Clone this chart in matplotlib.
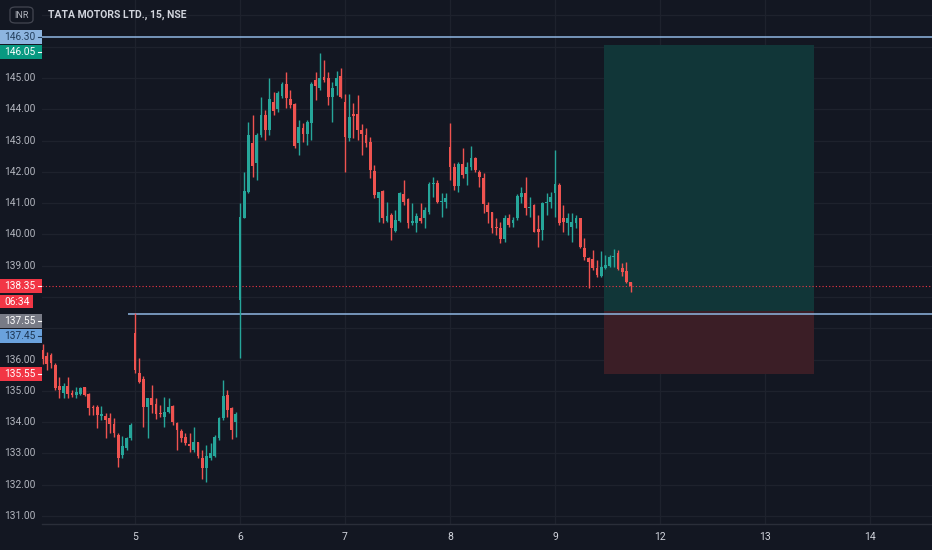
import matplotlib
matplotlib.use("Agg")
import matplotlib.pyplot as plt
from matplotlib.patches import Rectangle, FancyBboxPatch
from matplotlib.lines import Line2D
import numpy as np

# ---------------- data ----------------
title = "TATA MOTORS LTD., 15, NSE"
currency = "INR"
bars_per_session = 25
first_bar = 3          # first visible bar inside first session (day 4)

# day 4 (22 bars), day 5, 6, 7, 8 (25 bars each), day 9 (19 bars)
open_ = [136.30,136.11,136.15,135.83,135.15,134.94,135.15,134.92,134.86,134.90,135.11,134.90,134.49,134.49,134.20,134.20,134.14,133.94,133.59,132.95,133.16,133.48,
         136.84,135.56,135.37,134.47,134.76,134.58,134.30,134.17,134.33,134.51,133.98,133.73,133.54,133.30,133.11,133.38,132.84,132.52,132.84,132.92,133.48,134.12,134.87,134.44,134.01,
         137.90,140.52,141.37,142.91,142.27,143.18,143.82,143.34,144.24,144.01,144.44,144.80,144.33,144.16,142.91,143.41,143.20,143.55,144.93,144.69,145.04,145.01,144.40,144.76,145.06,
         144.23,143.09,143.84,143.84,143.34,143.18,142.97,142.03,141.15,141.39,140.43,140.62,140.11,140.43,141.28,141.13,140.36,140.36,140.54,140.54,140.71,141.60,141.66,141.03,141.03,
         142.81,142.17,141.56,142.24,141.92,142.14,142.45,141.98,141.82,140.94,140.73,140.25,140.22,139.86,140.54,140.36,140.52,141.21,141.32,140.84,140.94,140.17,140.14,140.99,141.03,
         141.31,141.58,140.54,140.36,140.25,140.36,140.52,139.58,139.26,139.22,138.92,138.68,138.92,139.00,139.29,139.40,138.92,138.83,138.47]
high = [136.50,136.25,136.20,135.88,135.45,135.24,135.43,135.03,135.13,135.13,135.13,134.92,134.55,134.55,134.52,134.28,134.28,134.12,133.64,133.56,133.54,133.96,
        137.48,136.04,135.47,134.78,135.19,134.76,134.55,134.81,134.76,134.55,134.01,133.77,133.64,133.64,133.85,133.38,133.11,133.27,133.32,133.59,134.17,135.35,135.03,134.49,134.33,
        140.99,142.01,143.60,143.82,143.23,144.40,143.98,144.99,144.56,144.59,144.88,145.20,144.62,144.19,143.66,143.55,143.66,144.88,145.20,145.79,145.58,145.20,144.88,145.22,145.31,
        144.50,144.50,144.19,144.46,143.52,143.39,143.12,142.22,141.35,141.42,141.05,140.67,140.78,141.37,141.74,141.15,141.00,140.68,141.00,140.89,141.69,141.85,141.74,141.31,141.31,
        143.55,142.27,142.33,142.75,142.33,142.84,142.49,142.06,141.95,141.05,140.73,140.52,140.41,140.62,140.64,140.57,141.28,141.53,141.85,141.21,140.96,140.62,141.03,141.31,141.37,
        142.70,141.63,140.94,140.68,140.68,140.62,140.54,139.88,139.29,139.50,139.18,139.47,139.34,139.34,139.53,139.50,139.08,139.13,138.47]
low = [135.86,135.67,135.72,135.03,134.76,134.76,134.76,134.81,134.76,134.87,134.83,134.23,134.23,133.83,134.07,133.51,133.64,133.54,132.56,132.84,133.11,133.43,
       135.56,135.24,133.85,133.51,134.28,134.09,134.17,133.85,134.28,133.91,133.11,133.38,133.27,133.06,133.06,132.84,132.20,132.10,132.79,132.90,133.43,134.07,134.17,133.45,133.54,
       136.05,140.52,141.31,141.85,141.74,143.13,143.02,143.18,143.82,143.92,144.35,144.05,144.03,142.75,142.54,142.97,142.86,143.02,144.30,144.62,144.88,144.14,143.60,144.46,144.35,
       142.00,143.00,143.07,143.02,142.54,142.81,141.79,141.16,140.41,140.36,140.41,139.82,140.09,140.41,140.94,140.20,140.30,140.09,140.36,140.22,140.64,141.21,141.00,140.57,140.84,
       141.74,141.42,141.37,141.79,141.58,142.06,142.01,141.53,140.68,140.36,140.04,139.98,139.72,139.77,140.25,140.25,140.46,140.99,140.62,140.57,140.07,139.61,139.82,140.62,140.84,
       140.57,140.30,140.09,139.98,139.77,140.20,139.56,139.18,138.30,138.86,138.65,138.65,138.90,138.97,138.97,138.86,138.68,138.44,138.17]
close = [136.01,135.86,135.88,135.08,135.03,135.15,134.90,134.86,134.96,135.08,134.87,134.44,134.44,134.23,134.26,134.07,133.94,133.64,132.84,133.24,133.48,133.91,
         135.67,135.29,134.47,134.76,134.55,134.26,134.26,134.33,134.47,134.01,133.75,133.48,133.34,133.24,133.38,132.92,132.52,132.92,133.00,133.54,134.12,134.83,134.39,133.75,134.26,
         140.57,141.39,143.18,142.20,143.18,143.82,143.34,144.33,143.95,144.53,144.80,144.37,144.14,142.84,143.44,143.20,143.58,144.80,144.76,145.01,144.95,144.40,144.67,145.01,144.40,
         143.10,143.76,143.80,143.34,143.20,142.91,142.06,141.26,141.35,140.52,140.60,140.22,140.46,141.32,141.03,140.36,140.43,140.60,140.43,140.78,141.60,141.66,141.05,141.07,141.17,
         142.17,141.56,142.24,141.90,142.17,142.45,142.06,141.85,140.96,140.73,140.22,140.20,139.86,140.54,140.30,140.46,141.24,141.32,140.86,140.89,140.09,140.09,140.99,141.03,141.21,
         141.60,140.36,140.39,140.52,140.39,140.54,139.61,139.29,139.11,138.92,138.70,138.97,139.03,139.29,139.32,138.90,138.81,138.47,138.35]

day_labels = ["5", "6", "7", "8", "9", "12", "13", "14"]
price_ticks = list(range(131, 148))

hline_top = 146.30
hline_ray = 137.45
ray_start_bar = 23.3
entry_price, target_price, stop_price = 137.55, 146.05, 135.55
position_start_bar, position_bars = 136.6, 50
last_price = 138.35
countdown = "06:34"

# ---------------- style ----------------
W, H = 932, 550
BG = "#131722"
UP = "#26a69a"
DOWN = "#ef5350"
GRID = "#1e222d"
AXTXT = "#b2b5be"
plt.rcParams['font.family'] = ['Roboto', 'DejaVu Sans']

fig = plt.figure(figsize=(W / 100, H / 100), dpi=100, facecolor=BG)
plot_left, plot_bottom = 42, 26
ax = fig.add_axes([plot_left / W, plot_bottom / H, (W - plot_left) / W, (H - plot_bottom) / H])
ax.set_facecolor(BG)

px_per_bar = 4.2
x0_bar = (plot_left - 30) / px_per_bar
x1_bar = (W - 30) / px_per_bar
ax.set_xlim(x0_bar, x1_bar)
px_per_unit = 31.29
ax.set_ylim(145 - (H - plot_bottom - 78) / px_per_unit, 145 + 78 / px_per_unit)

o = np.array(open_); h = np.array(high); l = np.array(low); c = np.array(close)
g = first_bar + np.arange(len(o))
cols = np.where(c >= o, UP, DOWN)

# grid
ax.set_yticks(price_ticks)
day_pos = [bars_per_session * (i + 1) for i in range(len(day_labels))]
ax.set_xticks(day_pos)
ax.grid(True, color=GRID, lw=0.9, zorder=0)
ax.set_axisbelow(True)
ax.tick_params(length=0, labelleft=False, labelbottom=False)
for s in ["top", "left", "right"]:
    ax.spines[s].set_visible(False)
ax.spines["bottom"].set_color("#2a2e39")
ax.spines["bottom"].set_linewidth(1)

# position tool boxes
ax.add_patch(Rectangle((position_start_bar, entry_price), position_bars, target_price - entry_price,
                       facecolor="#113638", edgecolor="none", zorder=1))
ax.add_patch(Rectangle((position_start_bar, stop_price), position_bars, entry_price - stop_price,
                       facecolor="#3b1e26", edgecolor="none", zorder=1))

# horizontal lines
ax.axhline(hline_top, color="#8fb7e3", lw=1.1, zorder=2)
ax.hlines(hline_ray, ray_start_bar, x1_bar, color="#8fb7e3", lw=1.1, zorder=2)
ax.axhline(last_price, color="#f23645", lw=0.8, ls=(0, (1, 2)), zorder=2)

# candles
ax.vlines(g, l, h, colors=cols, lw=1.0, zorder=3)
body_h = np.maximum(np.abs(c - o), 0.03)
ax.bar(g, body_h, bottom=np.minimum(o, c), width=0.7, color=cols, edgecolor="none", zorder=4)

# ---------------- axis texts ----------------
def ydisp(price):
    return ax.transData.transform((0, price))[1]

def xdisp(bar):
    return ax.transData.transform((bar, 0))[0]

for lab, pos in zip(day_labels, day_pos):
    fig.text(xdisp(pos) / W, 13 / H, lab, ha="center", va="center", color="#d1d4dc", fontsize=7.5)

# price labels with stacking (display px, y up)
BOX_H, GAP = 14, 1
labels = [
    (hline_top, f"{hline_top:.2f}", "#8db5e0", "#24405e", None),
    (target_price, f"{target_price:.2f}", "#089981", "white", None),
    (last_price, f"{last_price:.2f}", "#f23645", "white", countdown),
    (entry_price, f"{entry_price:.2f}", "#787b86", "white", None),
    (hline_ray, f"{hline_ray:.2f}", "#6aa2dd", "#1d3654", None),
    (stop_price, f"{stop_price:.2f}", "#f23645", "white", None),
]
occupied = [(H - 24, H - 6)]   # currency badge
prev_bottom = None
for price, txt, bg, fg, extra in labels:
    top = ydisp(price) + BOX_H / 2
    if prev_bottom is not None and top > prev_bottom - GAP:
        top = prev_bottom - GAP
    fig.add_artist(Rectangle((0, (top - BOX_H) / H), 42 / W, BOX_H / H, transform=fig.transFigure,
                             facecolor=bg, edgecolor="none", zorder=5))
    fig.text(20 / W, (top - BOX_H / 2) / H, txt, ha="center", va="center", color=fg, fontsize=7.3, zorder=6)
    fig.add_artist(Line2D([37.5 / W, 40.5 / W], [(top - BOX_H / 2) / H] * 2, transform=fig.transFigure,
                          color=fg, lw=0.8, zorder=6))
    bottom = top - BOX_H
    if extra is not None:
        ctop = bottom - 2
        fig.add_artist(Rectangle((0, (ctop - 13) / H), 33 / W, 13 / H, transform=fig.transFigure,
                                 facecolor=bg, edgecolor="none", zorder=5))
        fig.text(17 / W, (ctop - 6.5) / H, extra, ha="center", va="center", color=fg, fontsize=7.3, zorder=6)
        bottom = ctop - 18
    occupied.append((bottom, top))
    prev_bottom = bottom

# price scale tick labels (skip those hidden behind labels)
for p in price_ticks:
    yd = ydisp(p)
    if not (plot_bottom + 4 < yd < H):
        continue
    if any(b - 4 < yd < t + 4 for b, t in occupied):
        continue
    fig.text(20 / W, yd / H, f"{p:.2f}", ha="center", va="center", color=AXTXT, fontsize=7.3, zorder=1)

# currency badge and title
fig.add_artist(FancyBboxPatch((10 / W, (H - 23) / H), 23 / W, 16 / H, transform=fig.transFigure,
                              boxstyle="round,pad=0,rounding_size=0.006", facecolor=BG,
                              edgecolor="#434651", lw=0.9, zorder=5))
fig.text(21.5 / W, (H - 15) / H, currency, ha="center", va="center", color=AXTXT, fontsize=6.5, zorder=6)
fig.text(48 / W, (H - 14.5) / H, title, ha="left", va="center", color="#d1d4dc", fontsize=7.5,
         fontweight="semibold", zorder=6)

fig.savefig("out.png", dpi=100, facecolor=BG)
